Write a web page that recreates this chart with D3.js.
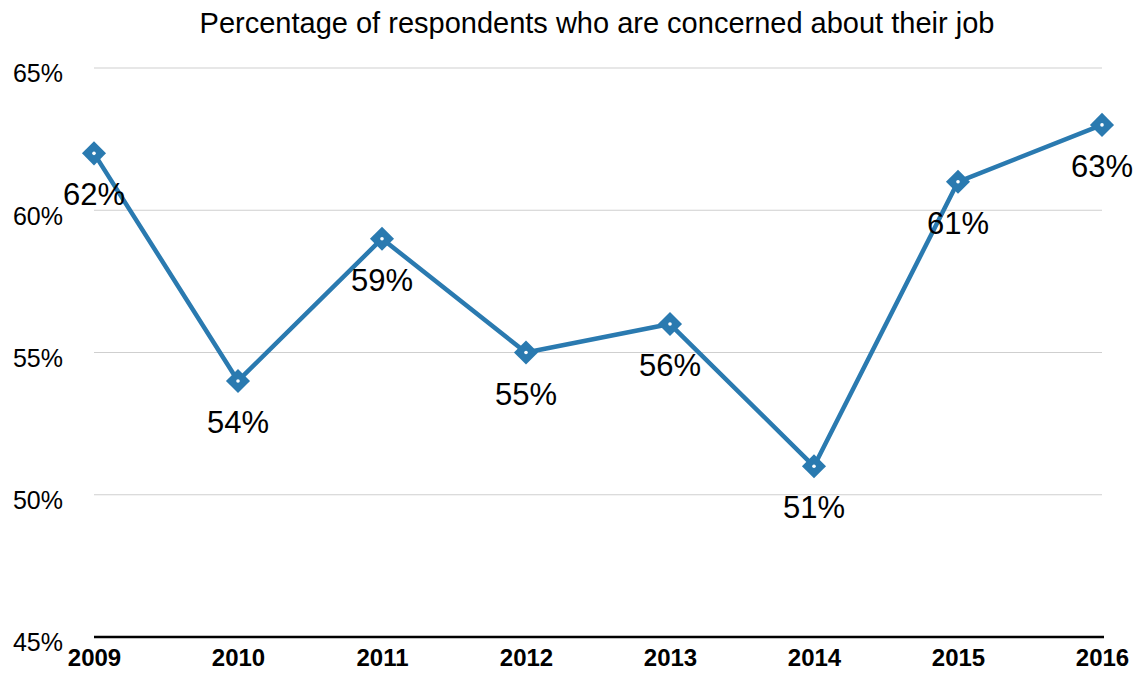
<!DOCTYPE html>
<html>
<head>
<meta charset="utf-8">
<script src="https://cdn.jsdelivr.net/npm/d3@7"></script>
<style>
  body { margin: 0; background: #fff; }
  text { font-family: "Liberation Sans", Arial, Helvetica, sans-serif; }
</style>
</head>
<body>
<div id="chart"></div>
<script>
// data
var years = ["2009", "2010", "2011", "2012", "2013", "2014", "2015", "2016"];
var concerned = [62, 54, 59, 55, 56, 51, 61, 63];
var yTicks = [45, 50, 55, 60, 65];

var W = 1136, H = 674;
var margin = {top: 68, right: 34, bottom: 37, left: 94};
var width = W - margin.left - margin.right,
    height = H - margin.top - margin.bottom;

var svg = d3.select("#chart")
    .append("svg")
    .attr("width", W)
    .attr("height", H)
    .append("g")
    .attr("transform", "translate(" + margin.left + "," + margin.top + ")");

var x = d3.scalePoint()
    .domain(years)
    .range([0, 1008]);

var y = d3.scaleLinear()
    .domain([45, 65])
    .range([height, 0]);

// title
svg.append("text")
    .attr("x", 503)
    .attr("y", -35)
    .attr("text-anchor", "middle")
    .attr("font-size", "29px")
    .attr("fill", "#000")
    .text("Percentage of respondents who are concerned about their job");

// grid
svg.append("g")
    .selectAll("line")
    .data(yTicks.filter(function (d) { return d > 45; }))
    .enter()
    .append("line")
    .attr("x1", 0)
    .attr("x2", 1008)
    .attr("y1", function (d) { return y(d); })
    .attr("y2", function (d) { return y(d); })
    .attr("stroke", "#cfcfcf")
    .attr("stroke-width", 1);

// y labels
var yAxis = svg.append("g")
    .call(d3.axisLeft(y).tickValues(yTicks).tickSize(0).tickPadding(31)
        .tickFormat(function (d) { return d + "%"; }));
yAxis.select(".domain").remove();
yAxis.selectAll("text")
    .attr("font-size", "25px")
    .attr("font-family", "Liberation Sans, Arial, sans-serif")
    .attr("fill", "#000")
    .attr("dy", "0.55em");

// x axis
var xAxis = svg.append("g")
    .attr("transform", "translate(0," + height + ")")
    .call(d3.axisBottom(x).tickSize(0).tickPadding(12));
xAxis.select(".domain")
    .attr("d", "M0,0H1010")
    .attr("stroke", "#000")
    .attr("stroke-width", 2.5);
xAxis.selectAll("text")
    .attr("font-size", "24px")
    .attr("font-weight", "bold")
    .attr("font-family", "Liberation Sans, Arial, sans-serif")
    .attr("fill", "#000");

var blue = "#2a7ab0";

// line
var line = d3.line()
    .x(function (d, i) { return x(years[i]); })
    .y(function (d) { return y(d); });

svg.append("path")
    .datum(concerned)
    .attr("fill", "none")
    .attr("stroke", blue)
    .attr("stroke-width", 4.5)
    .attr("stroke-linejoin", "round")
    .attr("d", line);

// markers
var markers = svg.append("g")
    .selectAll("g")
    .data(concerned)
    .enter()
    .append("g")
    .attr("transform", function (d, i) { return "translate(" + x(years[i]) + "," + y(d) + ")"; });

markers.append("path")
    .attr("d", d3.symbol().type(d3.symbolSquare).size(290))
    .attr("transform", "rotate(45)")
    .attr("fill", blue);

markers.append("circle")
    .attr("r", 1.8)
    .attr("fill", "#fff");

// value labels
svg.append("g")
    .selectAll("text")
    .data(concerned)
    .enter()
    .append("text")
    .attr("x", function (d, i) { return x(years[i]); })
    .attr("y", function (d) { return y(d) + 52; })
    .attr("text-anchor", "middle")
    .attr("font-size", "31px")
    .attr("fill", "#000")
    .text(function (d) { return d + "%"; });
</script>
</body>
</html>
